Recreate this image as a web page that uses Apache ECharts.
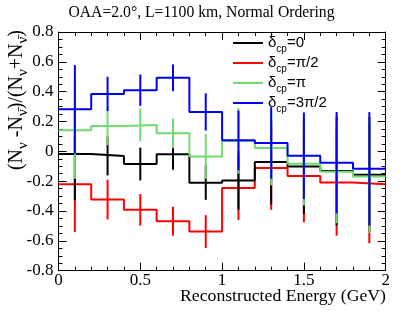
<!DOCTYPE html>
<html>
<head>
<meta charset="utf-8">
<script src="https://cdn.jsdelivr.net/npm/echarts@6/dist/echarts.min.js"></script>
<style>
html,body{margin:0;padding:0;background:#fff;}
#c{width:407px;height:322px;}
</style>
</head>
<body>
<div id="c"></div>
<script>
// ---- data ----
const binEdges = [0, 0.2, 0.4, 0.6, 0.8, 1.0, 1.2, 1.4, 1.6, 1.8, 2.0];
const binCenters = [0.1, 0.3, 0.5, 0.7, 0.9, 1.1, 1.3, 1.5, 1.7, 1.9];
const seriesNames = ['δcp=0', 'δcp=π/2', 'δcp=π', 'δcp=3π/2'];
const legendLabels = ['0', 'π/2', 'π', '3π/2'];
const blackVals = [-0.018, -0.031, -0.085, -0.020, -0.210, -0.195, -0.072, -0.101, -0.132, -0.157];
const redVals   = [-0.220, -0.323, -0.392, -0.468, -0.538, -0.246, -0.112, -0.166, -0.208, -0.220];
const greenVals = [0.141, 0.170, 0.177, 0.121, -0.034, 0.070, 0.022, -0.083, -0.137, -0.168];
const blueVals  = [0.282, 0.385, 0.410, 0.493, 0.264, 0.074, 0.056, -0.029, -0.076, -0.117];
const blackErr = [0.310, 0.130, 0.110, 0.103, 0.115, 0.197, 0.284, 0.318, 0.365, 0.385];
const redErr   = [0.320, 0.133, 0.106, 0.097, 0.110, 0.214, 0.280, 0.310, 0.357, 0.396];
const greenErr = [0.325, 0.130, 0.110, 0.100, 0.150, 0.220, 0.250, 0.280, 0.345, 0.380];
const blueErr  = [0.296, 0.115, 0.105, 0.090, 0.125, 0.200, 0.240, 0.290, 0.340, 0.380];
const xTickLabels = ['0', '0.5', '1', '1.5', '2'];

// ---- build ----
const serif = 'Liberation Serif';
const sans = 'Liberation Sans';
const colors = ['#000000', '#ff0000', '#6ddc6d', '#0000ff'];
const valsAll = [blackVals, redVals, greenVals, blueVals];
const errAll = [blackErr, redErr, greenErr, blueErr];
const zOrder = [3, 2, 4, 5];

function stepData(vals) {
  return binEdges.map((e, i) => [e, vals[Math.min(i, vals.length - 1)]]);
}
function errData(vals, errs) {
  return binCenters.map((c, i) => [c, vals[i], errs[i]]);
}

const series = [];
valsAll.forEach((vals, k) => {
  series.push({
    name: seriesNames[k],
    type: 'line',
    step: 'end',
    data: stepData(vals),
    symbol: 'none',
    showSymbol: false,
    lineStyle: { color: colors[k], width: 2 },
    itemStyle: { color: colors[k] },
    z: zOrder[k],
    animation: false,
    silent: true
  });
  series.push({
    name: 'err' + k,
    type: 'custom',
    data: errData(vals, errAll[k]),
    encode: { x: 0, y: 1 },
    z: zOrder[k],
    animation: false,
    silent: true,
    renderItem: function (params, api) {
      const x = api.value(0), y = api.value(1), e = api.value(2);
      const p1 = api.coord([x, y + e]);
      const p2 = api.coord([x, y - e]);
      return {
        type: 'line',
        shape: { x1: p1[0], y1: p1[1], x2: p2[0], y2: p2[1] },
        style: { stroke: colors[k], lineWidth: 2 }
      };
    }
  });
});

const gridL = 58.5, gridR = 21.3, gridT = 32, gridB = 51.3;
const tickStyle = { color: '#000', width: 1 };

const xBase = {
  type: 'value', min: 0, max: 2, interval: 0.5,
  axisLine: { show: true, onZero: false, lineStyle: { color: '#000', width: 1 } },
  axisTick: { show: true, inside: true, length: 8, lineStyle: tickStyle },
  minorTick: { show: true, splitNumber: 5, length: 4, lineStyle: tickStyle },
  splitLine: { show: false }, minorSplitLine: { show: false }
};
const yBase = {
  type: 'value', min: -0.8, max: 0.8, interval: 0.2,
  axisLine: { show: true, onZero: false, lineStyle: { color: '#000', width: 1 } },
  axisTick: { show: true, inside: true, length: 8, lineStyle: tickStyle },
  minorTick: { show: true, splitNumber: 4, length: 4, lineStyle: tickStyle },
  splitLine: { show: false }, minorSplitLine: { show: false }
};

const legendRich = {
  d: { fontFamily: sans, fontSize: 15, lineHeight: 18, verticalAlign: 'middle', color: '#000' },
  s: { fontFamily: sans, fontSize: 10, lineHeight: 10, padding: [10, 0, 0, 0], verticalAlign: 'top', color: '#000' }
};

const yTitle = '{p|(N}{s|ν}{p| -N}{s|ν̄}{p|)/(N}{s|ν}{p|+N}{s|ν̄}{p|)}';

const option = {
  backgroundColor: '#fff',
  animation: false,
  grid: { left: gridL, right: gridR, top: gridT, bottom: gridB },
  xAxis: [
    Object.assign({}, xBase, {
      position: 'bottom',
      axisLabel: {
        show: true, margin: 1, fontFamily: serif, fontSize: 17, color: '#000',
        showMinLabel: true, showMaxLabel: true,
        formatter: function (v) { return xTickLabels[Math.round(v / 0.5)]; }
      }
    }),
    Object.assign({}, xBase, { position: 'top', axisLabel: { show: false } })
  ],
  yAxis: [
    Object.assign({}, yBase, {
      position: 'left',
      axisLabel: {
        show: true, margin: 5, fontFamily: serif, fontSize: 17, color: '#000',
        showMinLabel: true, showMaxLabel: true,
        formatter: function (v) { return String(Math.round(v * 10) / 10); }
      }
    }),
    Object.assign({}, yBase, { position: 'right', axisLabel: { show: false } })
  ],
  legend: {
    show: true,
    orient: 'vertical',
    left: 228, top: 29,
    itemWidth: 30, itemHeight: 14, itemGap: 0,
    data: seriesNames,
    selectedMode: false,
    formatter: function (name) {
      const k = seriesNames.indexOf(name);
      return '{d|δ}{s|cp}{d|=' + legendLabels[k] + '}';
    },
    textStyle: { rich: legendRich, padding: [0, 0, 0, 0] },
    icon: 'path://M0,0 L30,0 L30,2 L0,2 Z'
  },
  graphic: [
    {
      type: 'text', x: 201.5, y: 13,
      style: { text: 'OAA=2.0°, L=1100 km, Normal Ordering', font: '15.7px "Liberation Serif"', fill: '#000', align: 'center', verticalAlign: 'middle' }
    },
    {
      type: 'text', x: 386, y: 296,
      style: { text: 'Reconstructed Energy (GeV)', font: '17.7px "Liberation Serif"', fill: '#000', align: 'right', verticalAlign: 'middle' }
    },
    {
      type: 'text', x: 17, y: 30, rotation: Math.PI / 2,
      style: {
        text: yTitle, align: 'right', verticalAlign: 'middle', fill: '#000',
        rich: {
          p: { fontFamily: serif, fontSize: 20, lineHeight: 20, verticalAlign: 'middle', fill: '#000' },
          s: { fontFamily: serif, fontSize: 15, lineHeight: 15, padding: [9, 0, 0, 0], verticalAlign: 'top', fill: '#000' }
        }
      }
    }
  ],
  series: series
};

const chart = echarts.init(document.getElementById('c'), null, { renderer: 'canvas' });
chart.setOption(option);
</script>
</body>
</html>
